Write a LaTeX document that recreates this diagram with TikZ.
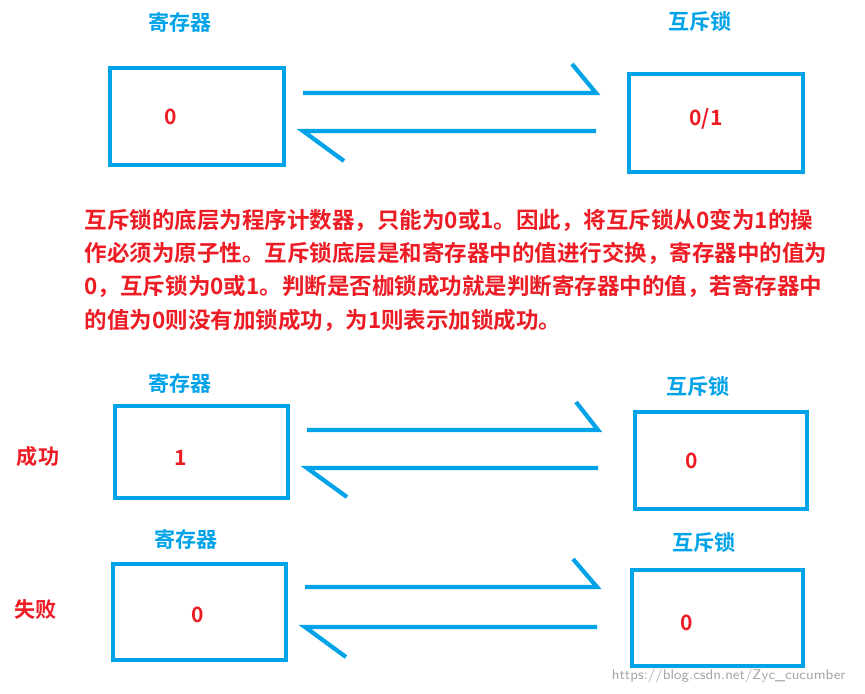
\documentclass[tikz,border=0pt]{standalone}
\usepackage{fontspec}
\newfontfamily\cjk{Noto Sans CJK SC}[BoldFont={Noto Sans CJK SC Bold}]
\usetikzlibrary{calc}
\definecolor{lblue}{RGB}{0,162,232}
\definecolor{lred}{RGB}{237,28,36}
\begin{document}
\begin{tikzpicture}[x=0.01cm,y=-0.01cm,
box/.style={draw=lblue, line width=1.2pt, inner sep=0},
ttl/.style={text=lblue, font=\cjk\bfseries\fontsize{6}{6}\selectfont},
val/.style={text=lred, font=\cjk\bfseries\fontsize{6}{6}\selectfont},
arr/.style={draw=lblue, line width=1.2pt}]
	\useasboundingbox (0,0) rectangle (865,693);
	% top group
	\node[ttl] (t1) at (180,22) {寄存器};
	\node[ttl] (t2) at (700,22) {互斥锁};
	\draw[box] (110,68) rectangle (284,165);
	\draw[box] (629,74) rectangle (803,172);
	\node[val] (v1) at (171,117) {0};
	\node[val] (v2) at (706,119) {0/1};
	\draw[arr] (572,64) -- (596,93) -- (303,93);
	\draw[arr] (596,131) -- (303,131) -- (344,161);
	% explanation
	\node[val, anchor=north west, align=left, inner sep=0, text width=780, font=\cjk\bfseries\fontsize{6.4}{9.5}\selectfont] (txt) at (84,208)
	{互斥锁的底层为程序计数器，只能为0或1。因此，将互斥锁从0变为1的操\\作必须为原子性。互斥锁底层是和寄存器中的值进行交换，寄存器中的值为\\0，互斥锁为0或1。判断是否枷锁成功就是判断寄存器中的值，若寄存器中\\的值为0则没有加锁成功，为1则表示加锁成功。};
	% success
	\node[ttl] (t3) at (180,383) {寄存器};
	\node[ttl] (t4) at (698,386) {互斥锁};
	\node[val] (ok) at (38,456) {成功};
	\draw[box] (115,406) rectangle (288,498);
	\draw[box] (635,412) rectangle (807,509);
	\node[val] (v3) at (181,458) {1};
	\node[val] (v4) at (692,461) {0};
	\draw[arr] (576,402) -- (598,430) -- (307,430);
	\draw[arr] (598,468) -- (307,468) -- (347,497);
	% failure
	\node[ttl] (t5) at (186,539) {寄存器};
	\node[ttl] (t6) at (704,542) {互斥锁};
	\node[val] (ng) at (36,609) {失败};
	\draw[box] (113,564) rectangle (286,660);
	\draw[box] (632,570) rectangle (803,666);
	\node[val] (v5) at (198,615) {0};
	\node[val] (v6) at (687,623) {0};
	\draw[arr] (573,559) -- (597,587) -- (305,587);
	\draw[arr] (597,627) -- (305,627) -- (346,657);
	\node[text=gray!70, font=\sffamily\fontsize{4}{5}\selectfont, anchor=east] (wm) at (858,676) {https://blog.csdn.net/Zyc\_cucumber};
\end{tikzpicture}
\end{document}
